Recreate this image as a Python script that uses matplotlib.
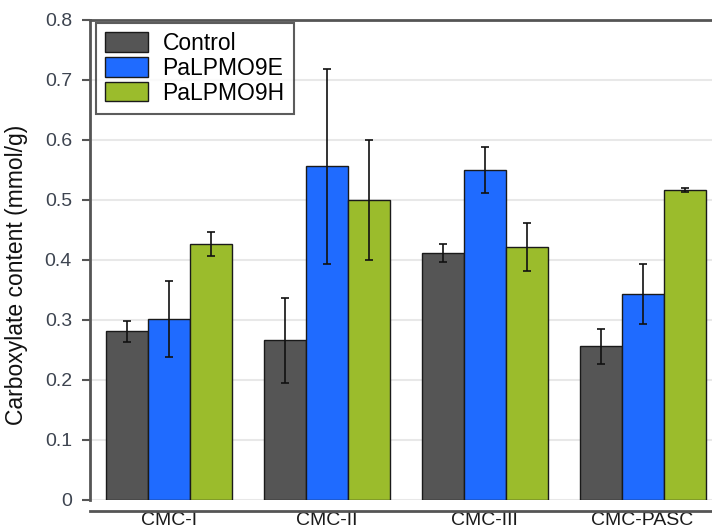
import numpy as np
import matplotlib.pyplot as plt
import matplotlib.patches as mpatches
from matplotlib.legend_handler import HandlerPatch

plt.rcParams['font.family'] = ['Liberation Sans', 'DejaVu Sans']

# Data
substrates = ['CMC-I', 'CMC-II', 'CMC-III', 'CMC-PASC']
groups = ['Control', 'PaLPMO9E', 'PaLPMO9H']
control = [0.281, 0.266, 0.412, 0.256]
control_err = [0.017, 0.071, 0.015, 0.029]
lpmo9e = [0.302, 0.556, 0.550, 0.343]
lpmo9e_err = [0.063, 0.162, 0.038, 0.050]
lpmo9h = [0.427, 0.500, 0.421, 0.517]
lpmo9h_err = [0.020, 0.100, 0.040, 0.003]
colors = ['#555555', '#1f6bff', '#9bbc2c']

fig = plt.figure(figsize=(7.12, 5.32), dpi=100)
ax = fig.add_axes([90 / 712, 32 / 532, 622 / 712, 480 / 532])

x = np.arange(len(substrates))
width = 0.266
series = [(control, control_err), (lpmo9e, lpmo9e_err), (lpmo9h, lpmo9h_err)]
for i, (vals, errs) in enumerate(series):
    ax.bar(x + (i - 1) * width, vals, width, color=colors[i], edgecolor='#1a1a1a',
           linewidth=1, label=groups[i], zorder=2)
    ax.errorbar(x + (i - 1) * width, vals, yerr=errs, fmt='none', ecolor='#111111',
                elinewidth=1.2, capsize=3, capthick=1.2, zorder=3)

ax.set_xlim(-0.5, 3.44)
ax.set_ylim(0, 0.8)
ax.set_yticks(np.arange(0, 0.81, 0.1))
ax.set_yticklabels(['0', '0.1', '0.2', '0.3', '0.4', '0.5', '0.6', '0.7', '0.8'])
ax.set_xticks(x)
ax.set_xticklabels(substrates)

ax.yaxis.grid(True, color='#e8e8e8', linewidth=1.5, zorder=0)
ax.set_axisbelow(True)

for s in ['left', 'top', 'bottom']:
    ax.spines[s].set_color('#555555')
    ax.spines[s].set_linewidth(2)
ax.spines['right'].set_visible(False)
ax.spines['bottom'].set_position(('outward', 8))

ax.tick_params(axis='y', length=6, width=1.5, color='#555555', pad=7,
               labelsize=14, labelcolor='#3d4450')
ax.tick_params(axis='x', length=0, pad=0.5, labelsize=14, labelcolor='#1a1a1a')

ax.set_ylabel('Carboxylate content (mmol/g)', fontsize=16.5, color='#111111')
ax.yaxis.set_label_coords(-0.1, 0.469)


def square_patch(legend, orig_handle, xdescent, ydescent, width, height, fontsize):
    return mpatches.Rectangle((-xdescent + width - height, -ydescent), height, height)


leg = ax.legend(loc='upper left', bbox_to_anchor=(0.0096, 0.994), borderaxespad=0,
                fontsize=16.5, frameon=True, fancybox=False, edgecolor='#333333',
                handlelength=1.85, handleheight=0.92, handletextpad=0.65,
                labelspacing=0.08, borderpad=0.4,
                handler_map={mpatches.Rectangle: HandlerPatch(patch_func=square_patch)})
leg.get_frame().set_linewidth(1.5)
leg.set_zorder(5)

fig.savefig('out.png', dpi=100)
